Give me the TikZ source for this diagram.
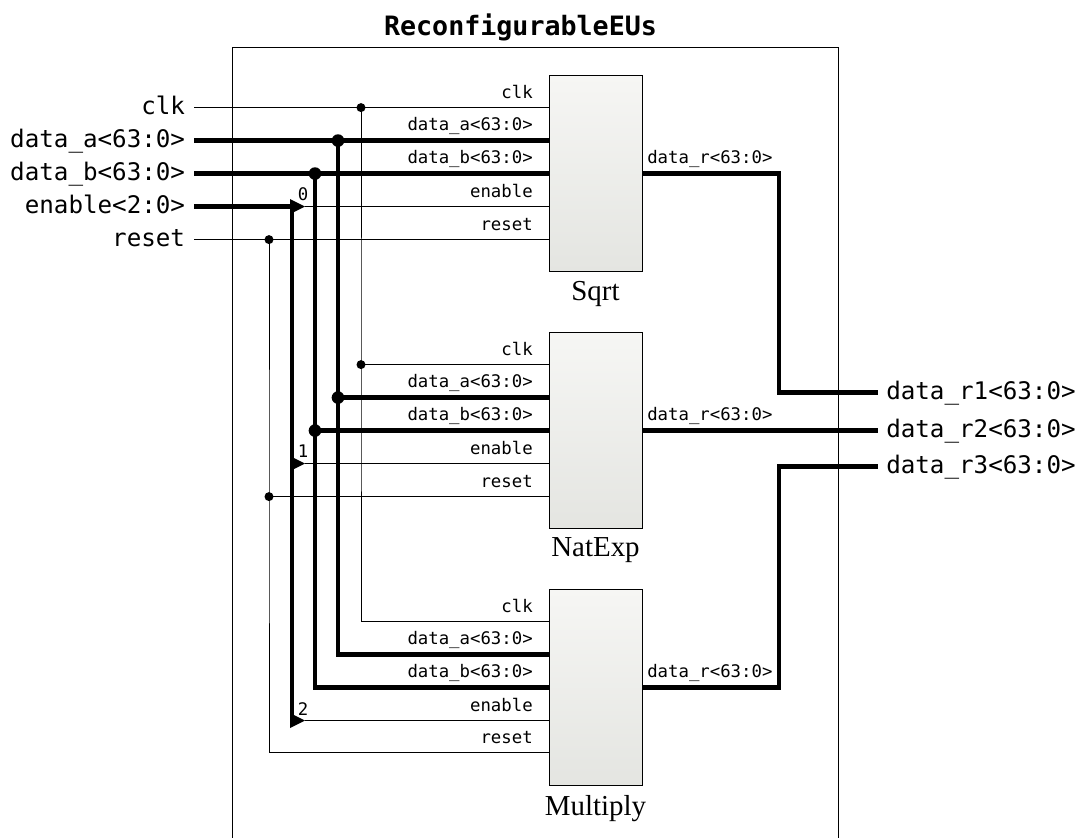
\documentclass[tikz,border=0pt]{standalone}
\usepackage{fontspec}
\setmainfont{Liberation Serif}
\setmonofont{DejaVu Sans Mono}
\usetikzlibrary{shapes.geometric}
\definecolor{eutop}{HTML}{F6F6F4}
\definecolor{eubot}{HTML}{E4E5E1}
\tikzset{
  thinwire/.style={line width=0.75pt},
  buswire/.style={line width=3.2pt},
  eublock/.style={draw=black,line width=0.75pt,top color=eutop,bottom color=eubot,minimum width=69.75pt,minimum height=147pt,outer sep=0pt,inner sep=0pt},
  eulabel/.style={font=\fontsize{21.7}{23}\selectfont,label distance=3.5pt},
  extname/.style={font=\ttfamily\fontsize{18.15}{20}\selectfont,inner ysep=0pt,text height=13pt,text depth=2pt},
  inname/.style={extname,anchor=east,inner xsep=6.5pt},
  outname/.style={extname,anchor=west,inner xsep=6pt},
  portname/.style={font=\ttfamily\fontsize{13}{15}\selectfont,anchor=south east,inner xsep=12pt,inner ysep=3.5pt,text height=9pt,text depth=3pt},
  portbus/.style={portname,inner ysep=4.5pt},
  outport/.style={portname,anchor=south west,inner xsep=3.75pt,inner ysep=4.5pt},
  bitname/.style={font=\ttfamily\fontsize{13}{15}\selectfont,inner sep=0pt},
  dot/.style={circle,fill=black,inner sep=0pt,minimum size=6.75pt},
  busdot/.style={circle,fill=black,inner sep=0pt,minimum size=9.5pt},
  tap/.style={isosceles triangle,isosceles triangle stretches,fill=black,inner sep=0pt,outer sep=0pt,minimum width=11.25pt,minimum height=11.25pt,anchor=west},
}
\begin{document}
\begin{tikzpicture}[x=0.75pt,y=-0.75pt]
  \useasboundingbox (0,-0.6) rectangle (1076,837.4);
  \node[font=\ttfamily\bfseries\fontsize{20}{22}\selectfont] (title) at (520.5,27) {ReconfigurableEUs};
  \coordinate (boxbl) at (232,838);
  \coordinate (boxtl) at (232,47);
  \coordinate (boxtr) at (838,47);
  \coordinate (boxbr) at (838,838);
  \draw[thinwire] (boxbl) -- (boxtl) -- (boxtr) -- (boxbr);

  % execution units
  \node[eublock,label={[eulabel]below:Sqrt}] (S) at (595.5,173) {};
  \node[eublock,label={[eulabel]below:NatExp}] (N) at (595.5,430) {};
  \node[eublock,label={[eulabel]below:Multiply}] (M) at (595.5,687) {};

  % ports
  \node[portname] (Sclk) at (549,107) {clk};
  \node[portbus] (Sa) at (549,140) {data\_a<63:0>};
  \node[portbus] (Sb) at (549,173) {data\_b<63:0>};
  \node[portname] (Sen) at (549,206) {enable};
  \node[portname] (Srst) at (549,239) {reset};
  \node[outport] (Sr) at (642,173) {data\_r<63:0>};
  \node[portname] (Nclk) at (549,364) {clk};
  \node[portbus] (Na) at (549,397) {data\_a<63:0>};
  \node[portbus] (Nb) at (549,430) {data\_b<63:0>};
  \node[portname] (Nen) at (549,463) {enable};
  \node[portname] (Nrst) at (549,496) {reset};
  \node[outport] (Nr) at (642,430) {data\_r<63:0>};
  \node[portname] (Mclk) at (549,621) {clk};
  \node[portbus] (Ma) at (549,654) {data\_a<63:0>};
  \node[portbus] (Mb) at (549,687) {data\_b<63:0>};
  \node[portname] (Men) at (549,720) {enable};
  \node[portname] (Mrst) at (549,752) {reset};
  \node[outport] (Mr) at (642,687) {data\_r<63:0>};

  % outside names
  \node[inname] (clk) at (194,107) {clk};
  \node[inname] (dataa) at (194,140) {data\_a<63:0>};
  \node[inname] (datab) at (194,173) {data\_b<63:0>};
  \node[inname] (enable) at (194,206) {enable<2:0>};
  \node[inname] (reset) at (194,239) {reset};
  \node[outname] (rone) at (878,392) {data\_r1<63:0>};
  \node[outname] (rtwo) at (878,430) {data\_r2<63:0>};
  \node[outname] (rthree) at (878,466) {data\_r3<63:0>};

  % junctions
  \node[dot] (clkS) at (361,107) {};
  \node[dot] (clkN) at (361,364) {};
  \node[busdot] (aS) at (338,140) {};
  \node[busdot] (aN) at (338,397) {};
  \node[busdot] (bS) at (315,173) {};
  \node[busdot] (bN) at (315,430) {};
  \node[dot] (rstS) at (269,239) {};
  \node[dot] (rstN) at (269,496) {};
  \coordinate (rail) at (779,47);
  \coordinate (bustop) at (292,206);
  \coordinate (busend) at (292,720);

  \draw[thinwire] (clk.east) -- (Sclk.south east);
  \draw[thinwire] (clkS.center) -- (clkN.center) |- (Mclk.south east);
  \draw[thinwire] (clkN.center) -- (Nclk.south east);
  \draw[thinwire] (reset.east) -- (Srst.south east);
  \draw[thinwire] (rstS.center) -- (rstN.center) |- (Mrst.south east);
  \draw[thinwire] (rstN.center) -- (Nrst.south east);

  \draw[buswire] (dataa.east) -- (Sa.south east);
  \draw[buswire] (aS.center) -- (aN.center) |- (Ma.south east);
  \draw[buswire] (aN.center) -- (Na.south east);
  \draw[buswire] (datab.east) -- (Sb.south east);
  \draw[buswire] (bS.center) -- (bN.center) |- (Mb.south east);
  \draw[buswire] (bN.center) -- (Nb.south east);

  % enable taps
  \draw[buswire] (bustop) -- (busend);
  \node[tap] (tapS) at (290,206) {};
  \node[tap] (tapN) at (290,463) {};
  \node[tap] (tapM) at (290,720) {};
  \node[bitname] (bitS) at (303,194) {0};
  \node[bitname] (bitN) at (303,451) {1};
  \node[bitname] (bitM) at (303,708) {2};
  \draw[buswire] (enable.east) -- (tapS.west);
  \draw[thinwire] (tapS.east) -- (Sen.south east);
  \draw[thinwire] (tapN.east) -- (Nen.south east);
  \draw[thinwire] (tapM.east) -- (Men.south east);

  % results
  \draw[buswire] (Sr.south west) -- (Sr.south west -| rail) -- (rone.west -| rail) -- (rone.west);
  \draw[buswire] (Nr.south west) -- (rtwo.west);
  \draw[buswire] (Mr.south west) -- (Mr.south west -| rail) -- (rthree.west -| rail) -- (rthree.west);
\end{tikzpicture}
\end{document}
